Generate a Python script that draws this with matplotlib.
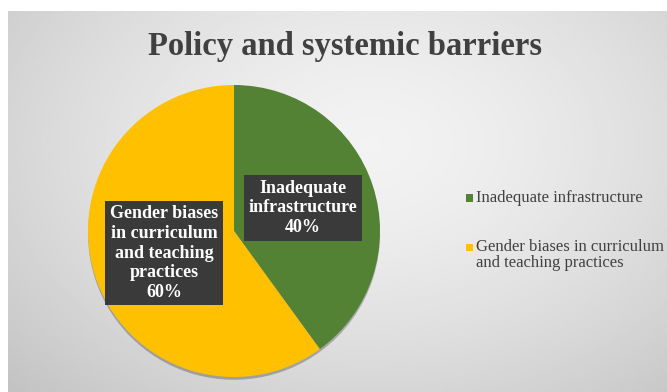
import numpy as np
import matplotlib.pyplot as plt
import matplotlib.patheffects as pe
from matplotlib.patches import Rectangle

# Data
labels = ["Inadequate infrastructure", "Gender biases in curriculum and teaching practices"]
box_labels = ["Inadequate\ninfrastructure", "Gender biases\nin curriculum\nand teaching\npractices"]
legend_labels = ["Inadequate infrastructure", "Gender biases in curriculum\nand teaching practices"]
values = [40, 60]
colors = ["#548235", "#FFC000"]

W, H = 667, 392
fig = plt.figure(figsize=(W / 100, H / 100), dpi=100)
fig.patch.set_facecolor("white")

# Gradient background of the chart area
bg = fig.add_axes([8 / W, 0, 1 - 8 / W, 1 - 11 / H])
yy, xx = np.mgrid[0:1:200j, 0:1:340j]
d = np.sqrt(((xx - 0.55) / 0.75) ** 2 + ((yy - 0.35) / 0.9) ** 2)
g = 0.95 - 0.18 * np.clip(d, 0, 1.2) ** 1.5
bg.imshow(g, cmap="gray", vmin=0, vmax=1, aspect="auto", interpolation="bilinear")
bg.axis("off")

# Pie
R = 146
cx, cy = 234, 231
ax = fig.add_axes([(cx - R) / W, (H - cy - R) / H, 2 * R / W, 2 * R / H])
wedges, _ = ax.pie(values, colors=colors, startangle=90, counterclock=False,
                   wedgeprops=dict(linewidth=0))
for w in wedges:
    w.set_path_effects([pe.SimplePatchShadow(offset=(0, -2), alpha=0.25, shadow_rgbFace="black"),
                        pe.Normal()])
ax.set_xlim(-1, 1)
ax.set_ylim(-1, 1)
ax.set_aspect("equal")
ax.axis("off")

# Data labels
label_pos = [(303, 208), (164, 253)]
for txt, v, (px, py) in zip(box_labels, values, label_pos):
    ax.text((px - cx) / R, (cy - py) / R, f"{txt}\n{v}%", ha="center", va="center",
            color="white", fontsize=13, fontweight="bold", family="Liberation Serif",
            linespacing=1.2,
            bbox=dict(boxstyle="square,pad=0.25", facecolor="#3a3a3a", edgecolor="none"))

# Title
fig.text(345 / W, 1 - 46 / H, "Policy and systemic barriers", ha="center", va="center",
         fontsize=23.5, fontweight="bold", family="Liberation Serif", color="#404040")

# Legend (drawn by hand so the marker sits on the first text line)
leg_y = [198, 247]
for c, lab, py in zip(colors, legend_labels, leg_y):
    fig.patches.append(Rectangle(((466) / W, 1 - (py + 3.5) / H), 7 / W, 7 / H,
                                 transform=fig.transFigure, facecolor=c, edgecolor="none"))
    fig.text(476 / W, 1 - (py - 8) / H, lab, ha="left", va="top", fontsize=12,
             family="Liberation Serif", color="#404040", linespacing=1.0)

fig.savefig("out.png", dpi=100, facecolor="white")
